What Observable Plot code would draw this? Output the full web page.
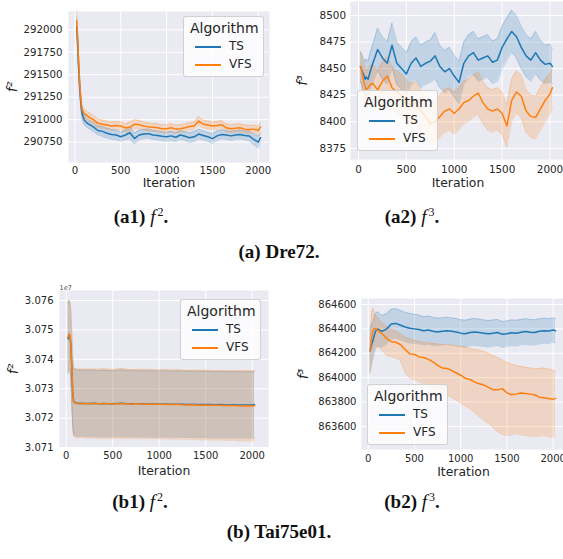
<!DOCTYPE html>
<html>
<head>
<meta charset="utf-8">
<script src="https://cdn.jsdelivr.net/npm/d3@7"></script>
<script src="https://cdn.jsdelivr.net/npm/@observablehq/plot@0.6"></script>
<style>
  body { margin: 0; background: white; }
  #root { position: relative; width: 563px; height: 559px; overflow: hidden; background: white; }
  .cap { position: absolute; transform: translate(-50%, -50%); font-family: "Liberation Serif", serif; font-weight: bold; font-size: 19px; color: #111; white-space: nowrap; }
  .cap i { font-weight: normal; padding-right: 1px; }
  .cap sup { font-weight: normal; font-size: 12px; margin-left: 1px; vertical-align: 7px; line-height: 0; }
  .leg { position: absolute; width: 81px; height: 61px; box-sizing: border-box; border: 1px solid rgba(204,204,204,0.9); border-radius: 3px; background: rgba(255,255,255,0.8); font-family: "DejaVu Sans", sans-serif; color: #262626; }
  .leg div { position: absolute; white-space: nowrap; }
</style>
</head>
<body>
<div id="root"></div>
<script>
// ---------------- data ----------------
const ITER = [20,30,40,50,60,70,80,100,125,150,200,250,300,350,400,450,500,550,600,650,700,750,800,850,900,950,1000,1050,1100,1150,1200,1250,1300,1350,1400,1450,1500,1550,1600,1650,1700,1750,1800,1850,1900,1950,2000,2025];
const X_TICKS = [0, 500, 1000, 1500, 2000];
const ALGORITHMS = ["TS", "VFS"];
const COLORS = ["#1f77b4", "#ff7f0e"];

// (a1) Dre72 f2
const A1_TS_MEAN = [292030,291850,291600,291400,291250,291130,291060,291000,290970,290950,
  290920,290880,290870,290850,290835,290830,290810,290830,290855,290790,
  290830,290840,290845,290830,290825,290815,290810,290820,290805,290830,
  290815,290800,290810,290840,290825,290810,290790,290820,290835,290830,
  290820,290830,290835,290825,290820,290780,290750,290800];
const A1_TS_CI = [110,100,90,80,70,65,60,55,50,50, 50,50,55,55,55,55,50,55,70,60, 55,50,50,50,50,50,50,50,50,50, 50,55,55,55,50,50,55,55,50,50, 50,50,50,50,55,60,65,55];
const A1_VFS_MEAN = [292100,291900,291650,291450,291290,291170,291110,291070,291050,291030,
  291000,290960,290950,290940,290930,290935,290930,290910,290915,290950,
  290945,290930,290920,290915,290910,290900,290900,290910,290895,290900,
  290910,290925,290930,290985,290950,290940,290930,290935,290945,290910,
  290900,290905,290910,290895,290890,290895,290880,290920];
const A1_VFS_CI = [120,100,90,80,70,65,60,55,50,50, 50,50,45,45,45,45,45,45,60,50, 45,45,45,45,45,45,45,45,45,45, 45,45,45,50,45,45,45,45,45,45, 45,45,45,45,45,45,50,50];
const A1_Y_TICKS = [290750, 291000, 291250, 291500, 291750, 292000];

// (a2) Dre72 f3
const A2_TS_MEAN = [8452,8450,8447,8445,8443,8440,8442,8440,8448,8455,
  8468,8460,8455,8472,8455,8450,8445,8455,8460,8452,
  8455,8457,8462,8452,8447,8450,8443,8437,8455,8462,
  8465,8458,8460,8462,8456,8458,8470,8478,8485,8480,
  8470,8462,8458,8465,8458,8454,8455,8452];
const A2_TS_CI = [14,14,15,15,16,16,17,17,18,18, 20,20,20,21,20,20,20,20,20,20, 20,20,22,20,20,20,20,20,20,20, 20,20,20,20,20,20,20,20,20,20, 20,20,20,20,19,18,18,16];
const A2_VFS_MEAN = [8452,8450,8445,8440,8436,8433,8430,8432,8435,8436,
  8430,8438,8443,8432,8428,8425,8420,8415,8418,8410,
  8405,8398,8400,8405,8410,8412,8408,8412,8418,8420,
  8424,8427,8418,8412,8410,8412,8408,8396,8420,8428,
  8424,8410,8405,8404,8412,8420,8426,8432];
const A2_VFS_CI = [14,15,16,17,18,18,18,18,18,18, 18,18,18,20,20,20,20,20,20,20, 20,20,20,20,20,20,20,20,20,20, 20,20,20,20,20,20,20,20,20,20, 20,20,20,20,20,20,19,18];
const A2_Y_TICKS = [8375, 8400, 8425, 8450, 8475, 8500];

// (b1) Tai75e01 f2
const B1_TS_MEAN = [30747000,30748500,30748000,30745000,30737000,30729000,30725600,30725200,30725000,30725050,
  30725000,30724950,30725050,30724900,30724950,30724900,30724850,30724950,30725050,30724900,
  30724850,30724900,30724850,30724800,30724850,30724800,30724750,30724800,30724750,30724700,
  30724750,30724700,30724650,30724700,30724650,30724600,30724650,30724600,30724550,30724600,
  30724550,30724500,30724550,30724500,30724450,30724500,30724450,30724600];
const B1_TS_CI = [12000,11500,11500,11500,11500,11400,11300,11300,11300,11300,
  11300,11300,11350,11300,11300,11300,11250,11300,11300,11300,
  11300,11300,11250,11300,11300,11300,11250,11300,11300,11250,
  11300,11300,11250,11300,11300,11250,11300,11250,11300,11250,
  11300,11250,11300,11250,11250,11300,11250,11300];
const B1_VFS_MEAN = [30747500,30748600,30748200,30745500,30737500,30729200,30725500,30725100,30724950,30725000,
  30724950,30724900,30724950,30724850,30724900,30724850,30724800,30724900,30725000,30724850,
  30724750,30724850,30724800,30724750,30724800,30724700,30724700,30724750,30724650,30724600,
  30724650,30724550,30724500,30724550,30724500,30724400,30724450,30724400,30724350,30724400,
  30724300,30724250,30724300,30724200,30724100,30724200,30724100,30724300];
const B1_VFS_CI = [12000,11600,11600,11600,11600,11600,11700,11800,11700,11700,
  11700,11800,11700,11800,11900,11800,11700,11800,11900,11800,
  11700,11700,11800,11700,11800,11700,11700,11800,11700,11800,
  11800,11700,11800,11700,11800,11900,11800,11900,11800,11900,
  11800,11900,11800,11900,12000,11900,12000,11900];
const B1_Y_TICKS = [30710000, 30720000, 30730000, 30740000, 30750000, 30760000];

// (b2) Tai75e01 f3
const B2_TS_MEAN = [864220,864250,864280,864300,864330,864360,864380,864400,864390,864380,
  864400,864440,864445,864430,864415,864405,864400,864395,864385,864390,
  864380,864375,864380,864385,864380,864375,864365,864360,864370,864375,
  864370,864365,864360,864365,864370,864355,864360,864368,864365,864372,
  864378,864372,864370,864380,864385,864382,864390,864385];
const B2_TS_CI = [180,170,160,150,150,150,145,140,135,130, 125,120,120,120,120,120,120,118,115,115, 115,112,110,110,110,110,110,110,110,110, 110,108,108,108,106,106,105,105,105,105, 105,104,104,103,103,102,100,100];
const B2_VFS_MEAN = [864220,864280,864340,864380,864400,864405,864400,864390,864375,864360,
  864320,864295,864290,864270,864230,864195,864190,864170,864165,864150,
  864130,864100,864080,864075,864060,864040,864020,863995,863985,863965,
  863950,863940,863920,863900,863900,863910,863875,863860,863865,863875,
  863870,863865,863860,863840,863835,863830,863822,863830];
const B2_VFS_LO = [864040,864080,864130,864180,864220,864240,864250,864250,864240,864220,
  864180,864170,864160,864140,864040,863995,863980,863965,863950,863930,
  863910,863890,863870,863855,863840,863815,863790,863765,863745,863715,
  863680,863650,863625,863590,863555,863535,863525,863530,863540,863530,
  863525,863520,863515,863520,863525,863515,863510,863520];
const B2_VFS_HI = [864300,864450,864540,864570,864560,864540,864520,864500,864470,864450,
  864420,864400,864380,864360,864330,864320,864305,864295,864290,864285,
  864280,864275,864270,864270,864265,864260,864255,864250,864240,864230,
  864225,864215,864200,864180,864165,864145,864125,864110,864100,864090,
  864085,864080,864070,864075,864080,864070,864060,864050];
const B2_Y_TICKS = [863600, 863800, 864000, 864200, 864400, 864600];

// ---------------- helpers ----------------
function rowsCI(mean, ci) {
  return ITER.map((it, i) => ({it, mean: mean[i], lo: mean[i] - ci[i], hi: mean[i] + ci[i]}));
}
function rowsLoHi(mean, lo, hi) {
  return ITER.map((it, i) => ({it, mean: mean[i], lo: lo[i], hi: hi[i]}));
}

const root = document.getElementById("root");

function panel(cfg) {
  const marks = [
    Plot.frame({fill: "#EAEAF2", stroke: "none"}),
    Plot.gridX(X_TICKS, {stroke: "white", strokeOpacity: 1, strokeWidth: 1}),
    Plot.gridY(cfg.yTicks, {stroke: "white", strokeOpacity: 1, strokeWidth: 1})
  ];
  cfg.series.forEach((rows, k) => {
    const c = COLORS[k];
    marks.push(Plot.areaY(rows, {x: "it", y1: "lo", y2: "hi", fill: c, fillOpacity: 0.2}));
    marks.push(Plot.lineY(rows, {x: "it", y: "lo", stroke: c, strokeOpacity: 0.22, strokeWidth: 1}));
    marks.push(Plot.lineY(rows, {x: "it", y: "hi", stroke: c, strokeOpacity: 0.22, strokeWidth: 1}));
  });
  cfg.series.forEach((rows, k) => {
    marks.push(Plot.lineY(rows, {x: "it", y: "mean", stroke: COLORS[k], strokeWidth: 1.5}));
  });
  marks.push(Plot.axisX(X_TICKS, {tickSize: 0, tickPadding: cfg.xPad, label: null, fontSize: cfg.fs, tickFormat: d => String(d)}));
  marks.push(Plot.axisY(cfg.yTicks, {tickSize: 0, tickPadding: cfg.yPad, label: null, fontSize: cfg.fs, tickFormat: cfg.fmt || (d => String(d))}));
  marks.push(Plot.text(["Iteration"], {frameAnchor: "bottom", dy: cfg.itDy, fontSize: 12.4, textAnchor: "middle", lineAnchor: "middle", fill: "#262626"}));
  marks.push(Plot.text([cfg.ylabel], {frameAnchor: "left", dx: cfg.ylDx, rotate: -90, fontSize: 14, fontStyle: "italic", textAnchor: "middle", lineAnchor: "middle", fill: "#262626"}));
  if (cfg.offset) {
    marks.push(Plot.text([cfg.offset], {frameAnchor: "top-left", dy: -1, dx: 0, fontSize: 6.5, textAnchor: "start", lineAnchor: "bottom", fill: "#444"}));
  }
  const svg = Plot.plot({
    width: cfg.width, height: cfg.height,
    marginTop: cfg.m[0], marginRight: cfg.m[1], marginBottom: cfg.m[2], marginLeft: cfg.m[3],
    x: {domain: cfg.xDomain},
    y: {domain: cfg.yDomain},
    style: {fontFamily: "DejaVu Sans, sans-serif", color: "#262626", background: "transparent", overflow: "visible"},
    marks
  });
  svg.style.position = "absolute";
  svg.style.left = cfg.left + "px";
  svg.style.top = cfg.top + "px";
  root.appendChild(svg);

  const lg = document.createElement("div");
  lg.className = "leg";
  lg.style.left = cfg.leg[0] + "px";
  lg.style.top = cfg.leg[1] + "px";
  let html = `<div style="left:6px;top:3px;font-size:14px;line-height:17px">Algorithm</div>`;
  ALGORITHMS.forEach((name, k) => {
    const y = 29 + k * 18;
    html += `<div style="left:11px;top:${y}px;width:26px;height:2px;background:${COLORS[k]}"></div>`;
    html += `<div style="left:45px;top:${y - 7}px;font-size:12px;line-height:15px">${name}</div>`;
  });
  lg.innerHTML = html;
  root.appendChild(lg);
}

panel({
  left: 0, top: 0, width: 280, height: 192, m: [11, 11, 30, 68],
  xDomain: [-70, 2122], yDomain: [290524, 292203], yTicks: A1_Y_TICKS,
  series: [rowsCI(A1_TS_MEAN, A1_TS_CI), rowsCI(A1_VFS_MEAN, A1_VFS_CI)],
  xPad: 4.5, yPad: 6, fs: 10.2, itDy: 21, ylabel: "f²", ylDx: -56, leg: [183, 16]
});
panel({
  left: 280, top: 0, width: 290, height: 192, m: [1, 5, 33, 70],
  xDomain: [-83.6, 2162], yDomain: [8364.4, 8513.2], yTicks: A2_Y_TICKS,
  series: [rowsCI(A2_TS_MEAN, A2_TS_CI), rowsCI(A2_VFS_MEAN, A2_VFS_CI)],
  xPad: 6, yPad: 4.5, fs: 10.4, itDy: 23.5, ylabel: "f³", ylDx: -48, leg: [357, 90]
});
panel({
  left: 0, top: 280, width: 280, height: 200, m: [10, 12, 33, 59],
  xDomain: [-72, 2175], yDomain: [30710000, 30763410], yTicks: B1_Y_TICKS,
  fmt: d => (d / 1e7).toFixed(3),
  series: [rowsCI(B1_TS_MEAN, B1_TS_CI), rowsCI(B1_VFS_MEAN, B1_VFS_CI)],
  xPad: 4.5, yPad: 6, fs: 10, itDy: 24, ylabel: "f²", ylDx: -46, leg: [180, 299], offset: "1e7"
});
panel({
  left: 280, top: 280, width: 290, height: 200, m: [18, 5, 31, 81],
  xDomain: [-72.4, 2133], yDomain: [863411, 864649], yTicks: B2_Y_TICKS,
  series: [rowsCI(B2_TS_MEAN, B2_TS_CI), rowsLoHi(B2_VFS_MEAN, B2_VFS_LO, B2_VFS_HI)],
  xPad: 5.5, yPad: 5, fs: 10, itDy: 23, ylabel: "f³", ylDx: -58, leg: [367, 384]
});

// captions
const CAPTIONS = [
  {html: "(a1) <i>f</i><sup>2</sup>.", x: 141, y: 217},
  {html: "(a2) <i>f</i><sup>3</sup>.", x: 412, y: 217},
  {html: "(a) Dre72.", x: 279, y: 252},
  {html: "(b1) <i>f</i><sup>2</sup>.", x: 140, y: 502},
  {html: "(b2) <i>f</i><sup>3</sup>.", x: 412, y: 502},
  {html: "(b) Tai75e01.", x: 279, y: 532}
];
CAPTIONS.forEach(c => {
  const d = document.createElement("div");
  d.className = "cap";
  d.style.left = c.x + "px";
  d.style.top = c.y + "px";
  d.innerHTML = c.html;
  root.appendChild(d);
});
</script>
</body>
</html>
